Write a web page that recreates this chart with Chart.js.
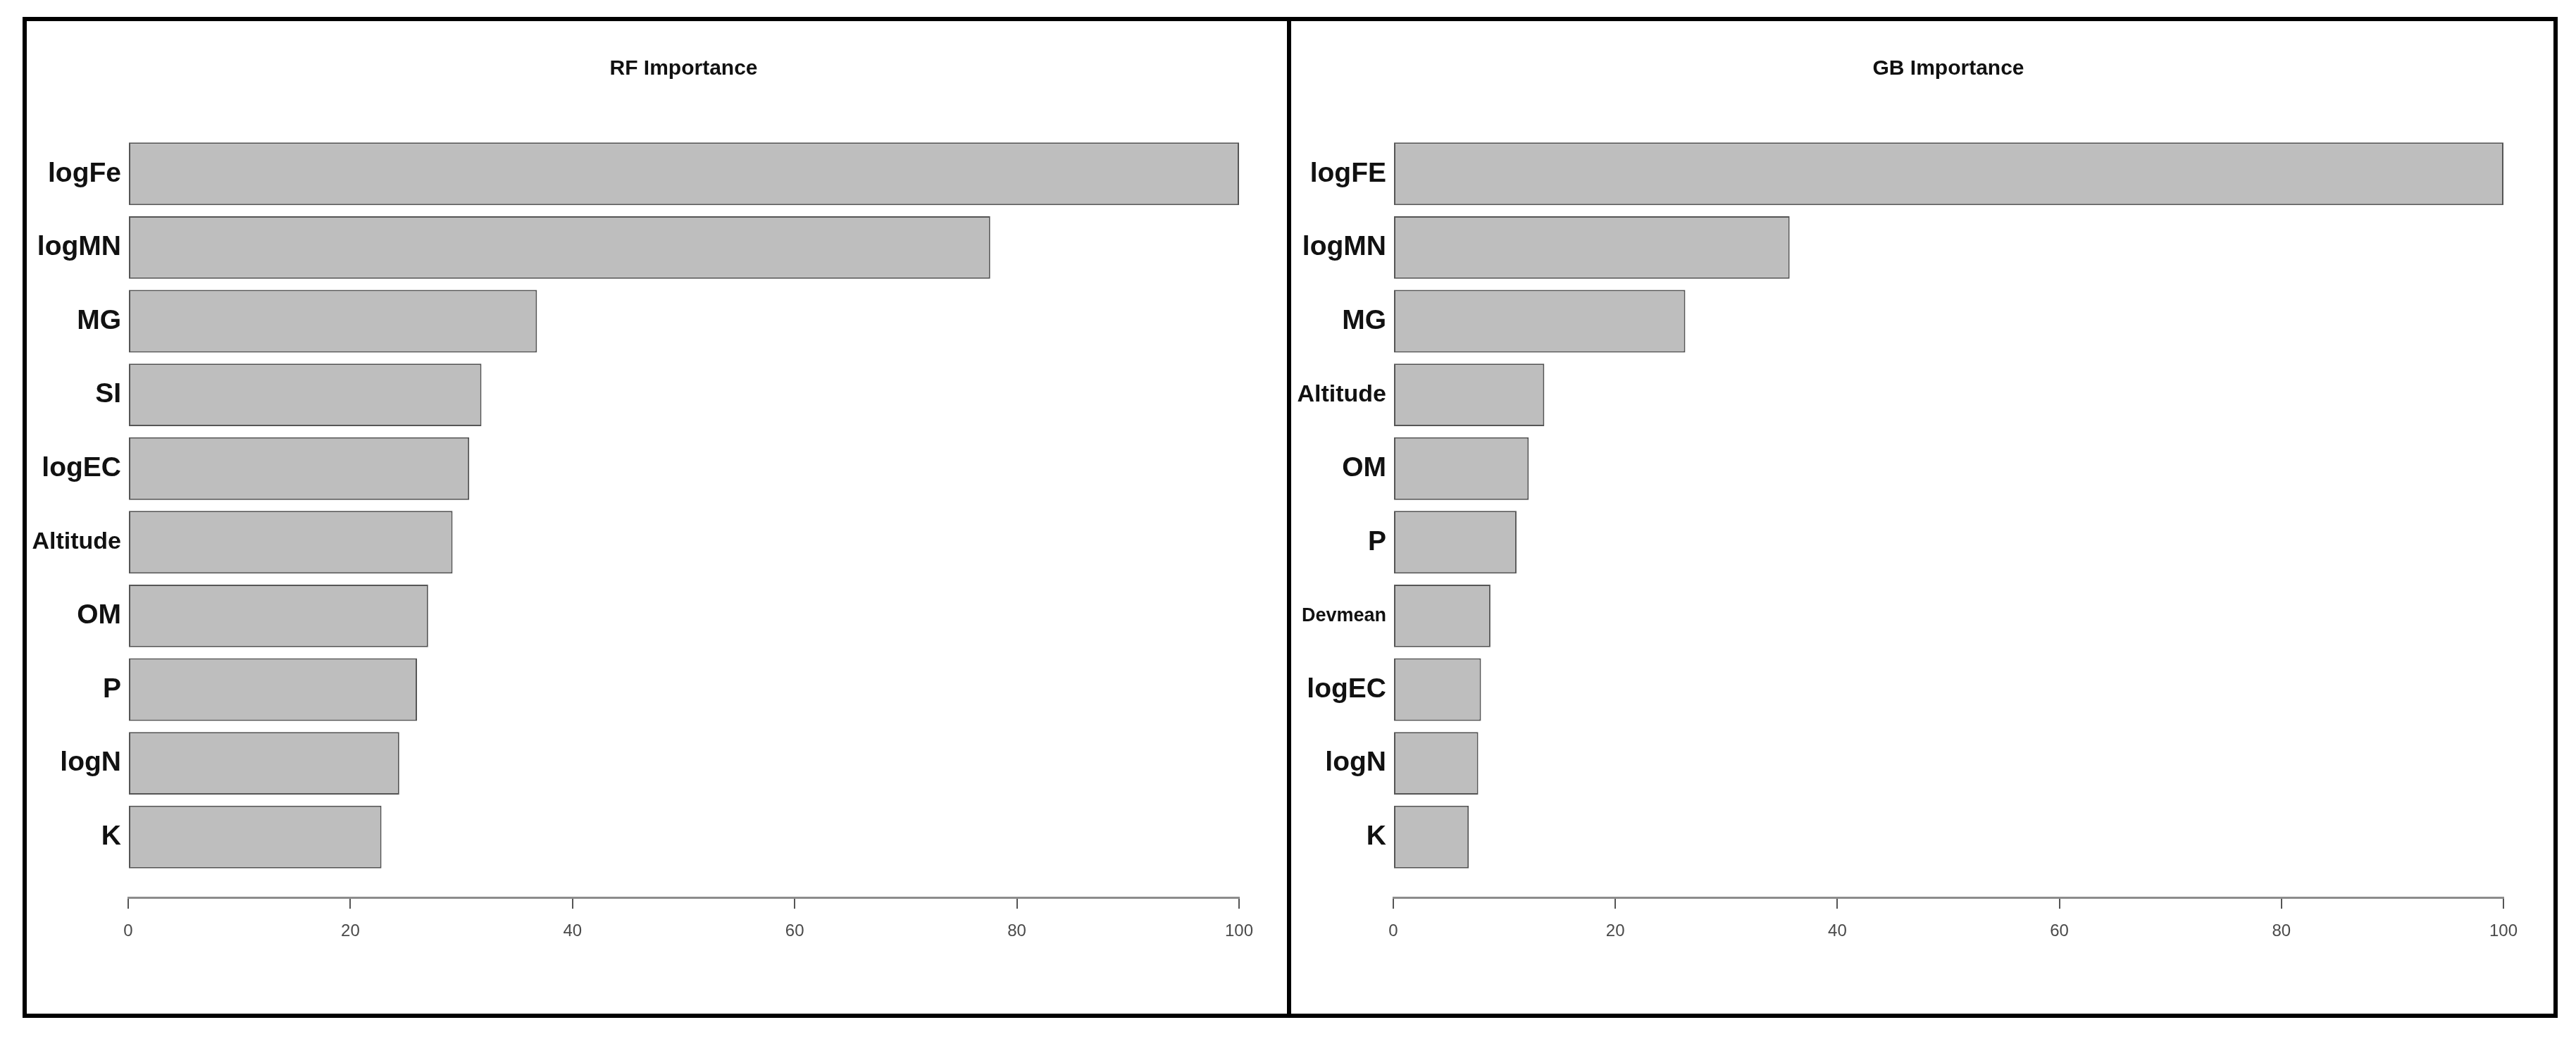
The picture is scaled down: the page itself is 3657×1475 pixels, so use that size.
<!DOCTYPE html>
<html>
<head>
<meta charset="utf-8">
<script src="https://cdn.jsdelivr.net/npm/chart.js@4.4.1/dist/chart.umd.min.js"></script>
<style>
  html, body { margin: 0; padding: 0; background: #fff; }
  body { width: 3657px; height: 1475px; position: relative; overflow: hidden; }
  .frame { position: absolute; left: 32px; top: 24px; width: 3599px; height: 1421px;
           border: 6px solid #000; box-sizing: border-box; z-index: 2; pointer-events: none; }
  .divider { position: absolute; left: 1827px; top: 24px; width: 6px; height: 1421px; background: #000; z-index: 2; }
  canvas { position: absolute; }
  #rfChart { left: 38px; top: 30px; }
  #gbChart { left: 1833px; top: 30px; }
</style>
</head>
<body>
<div class="frame"></div>
<div class="divider"></div>
<canvas id="rfChart" width="1789" height="1409"></canvas>
<canvas id="gbChart" width="1792" height="1409"></canvas>
<script>
// Random forest importance
const rfLabels = ['logFe', 'logMN', 'MG', 'SI', 'logEC', 'Altitude', 'OM', 'P', 'logN', 'K'];
const rfValues = [100, 77.6, 36.8, 31.8, 30.7, 29.2, 27.0, 26.0, 24.4, 22.8];

// Gradient boosting importance
const gbLabels = ['logFE', 'logMN', 'MG', 'Altitude', 'OM', 'P', 'Devmean', 'logEC', 'logN', 'K'];
const gbValues = [100, 35.7, 26.3, 13.6, 12.2, 11.1, 8.75, 7.9, 7.65, 6.8];

const xTicks = [0, 20, 40, 60, 80, 100];

// longer names are printed smaller, like in the original
const labelSize = { Altitude: 34, Devmean: 27 };

function makeChart(id, title, labels, values, axisWidth, padRight) {
    const ctx = document.getElementById(id).getContext('2d');
    return new Chart(ctx, {
        type: 'bar',
        data: {
            datasets: [{
                data: labels.map((l, i) => ({ x: values[i], y: i })),
                backgroundColor: '#bebebe',
                borderColor: '#555555',
                borderWidth: 2,
                borderSkipped: false,
                barPercentage: 0.85,
                categoryPercentage: 1
            }]
        },
        options: {
            indexAxis: 'y',
            responsive: false,
            animation: false,
            layout: { padding: { left: 0, right: padRight, top: 0, bottom: 65 } },
            plugins: {
                legend: { display: false },
                tooltip: { enabled: false },
                title: {
                    display: true,
                    text: title,
                    fullSize: false,
                    color: '#111',
                    font: { family: 'Liberation Sans, Arial, sans-serif', size: 30, weight: 'bold', lineHeight: 1.2 },
                    padding: { top: 50, bottom: 68 }
                }
            },
            scales: {
                x: {
                    type: 'linear',
                    min: 0,
                    max: 100,
                    afterBuildTicks: s => { s.ticks = xTicks.map(v => ({ value: v })); },
                    afterFit: s => { s.height = 100; },
                    grid: { drawOnChartArea: false, drawTicks: true, tickLength: 16, color: '#555', lineWidth: 2 },
                    border: { display: true, color: '#8c8c8c', width: 3 },
                    ticks: {
                        color: '#4a4a4a',
                        padding: 18,
                        maxRotation: 0,
                        font: { family: 'Liberation Sans, Arial, sans-serif', size: 24 }
                    }
                },
                y: {
                    type: 'linear',
                    reverse: true,
                    offset: false,
                    min: -0.6,
                    max: 9.82,
                    afterBuildTicks: s => { s.ticks = labels.map((l, i) => ({ value: i })); },
                    afterFit: s => { s.width = axisWidth; },
                    grid: { display: false, drawTicks: false },
                    border: { display: false },
                    ticks: {
                        autoSkip: false,
                        padding: 10,
                        color: '#111',
                        callback: v => labels[v],
                        font: c => ({
                            family: 'Liberation Sans, Arial, sans-serif',
                            weight: 'bold',
                            size: labelSize[labels[c.index]] || 39
                        })
                    }
                }
            }
        }
    });
}

makeChart('rfChart', 'RF Importance', rfLabels, rfValues, 144, 68);
makeChart('gbChart', 'GB Importance', gbLabels, gbValues, 145, 71);
</script>
</body>
</html>
